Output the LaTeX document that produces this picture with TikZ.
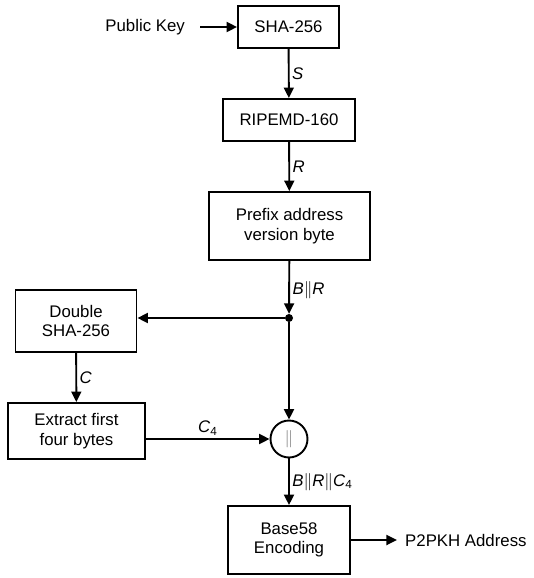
\documentclass[tikz,border=0pt]{standalone}
\usepackage{fontspec}
\setmainfont{Liberation Sans}
\usetikzlibrary{arrows.meta}
\begin{document}
\begin{tikzpicture}[x=1pt,y=-1pt,
  font=\fontsize{16.8}{19.5}\selectfont,
  box/.style={draw,line width=1.9pt,inner sep=0pt,align=center},
  arr/.style={line width=1.9pt,-{Triangle[length=10.5pt,width=10pt]}},
  lab/.style={inner sep=2.5pt}]
\useasboundingbox (0,0) rectangle (534,578);
\node[box,minimum width=101pt,minimum height=42pt] (sha) at (288.5,27) {SHA-256};
\node[box,minimum width=132pt,minimum height=42pt] (rip) at (289,120) {RIPEMD-160};
\node[box,minimum width=161pt,minimum height=68pt] (pre) at (289.5,226) {Prefix address\\version byte};
\node[box,minimum width=121pt,minimum height=62pt] (dbl) at (76,321) {Double\\SHA-256};
\node[box,minimum width=137pt,minimum height=56pt] (ext) at (76.5,431) {Extract first\\four bytes};
\node[draw,circle,line width=1.9pt,minimum size=37pt,inner sep=0pt] (cat) at (289,439) {\color{black!55}$\|$};
\node[box,minimum width=122pt,minimum height=68pt] (b58) at (289,540) {Base58\\Encoding};
\node[circle,fill,inner sep=0pt,minimum size=8pt] (dot) at (289,318) {};
\node[anchor=east,inner sep=0pt] (pk) at (185,27) {Public Key};
\node[anchor=west,inner sep=0pt] (p2) at (405,540) {P2PKH Address};
\draw[arr] (pk.east) ++(15,0) coordinate (pks) -- (sha.west);
\draw[arr] (sha) -- node[lab,right] {\textit{S}} (rip);
\draw[arr] (rip) -- node[lab,right] {\textit{R}} (pre);
\draw[arr] (pre) -- node[lab,right,pos=0.55] {\textit{B}$\|$\textit{R}} (dot);
\draw[arr] (dot) -- (dbl.east |- dot);
\draw[arr] (dot) -- (cat);
\draw[arr] (dbl) -- node[lab,right] {\textit{C}} (ext);
\draw[arr] (ext.east |- cat) -- node[lab,above,pos=0.5] {\textit{C}\textsubscript{4}} (cat);
\draw[arr] (cat) -- node[lab,right] {\textit{B}$\|$\textit{R}$\|$\textit{C}\textsubscript{4}} (b58);
\draw[arr] (b58.east) -- ++(46,0) coordinate (p2e);
\end{tikzpicture}
\end{document}
